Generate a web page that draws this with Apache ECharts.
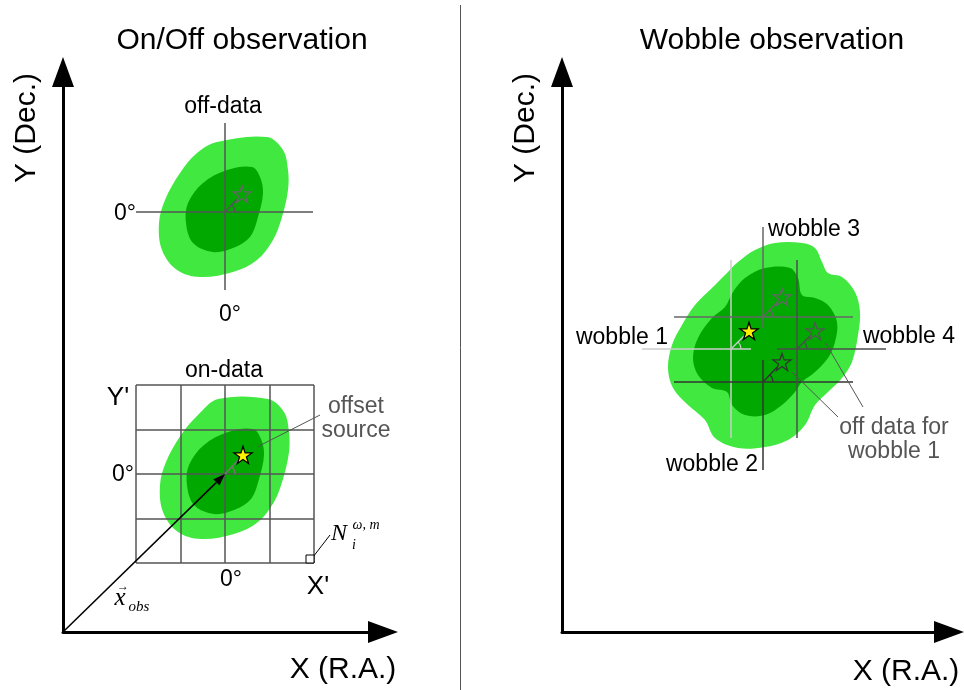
<!DOCTYPE html>
<html><head><meta charset="utf-8">
<script src="https://cdn.jsdelivr.net/npm/echarts@6/dist/echarts.min.js"></script>
<style>html,body{margin:0;padding:0;background:#fff}#c{width:964px;height:690px}</style>
</head><body><div id="c"></div>
<script>
// ---------- DATA (panel units: X right of Y axis, Y above X axis) ----------
// Left panel: On/Off observation
const offDataLight = [[154,490],[204,495],[220,482],[225,462],[225,442],[219,415],[210,392],[194,372],[170,360],[137,355],[114,362],[99,382],[96,409],[102,432],[117,459],[134,479]];
const offDataDark  = [[164,462],[189,465],[197,455],[200,439],[195,415],[187,395],[170,384],[150,380],[130,389],[123,409],[125,429],[140,449]];
const onDataLight  = [[155,233],[205,233],[221,220],[226,200],[226,180],[220,153],[211,130],[195,110],[171,98],[138,93],[115,100],[100,120],[97,147],[103,170],[118,197],[135,217]];
const onDataDark   = [[165,200],[190,203],[198,193],[201,177],[196,153],[188,133],[171,122],[151,118],[131,127],[124,147],[126,167],[141,187]];
const offCenter = [162,420];
const offStar   = [179,438];
const offHLine  = [73,250];   // x extent of horizontal 0° line
const offVLine  = [342,509];  // y extent of vertical 0° line
const onCenter  = [162,158];
const onStar    = [180,177];
const onGridX   = [73,118,162,207,251];
const onGridY   = [69,113,158,202,247];
const xObs      = [[0,0],[162,158]];
const offsetLeader = [[257,217],[194,185]];
const cellLeader   = [[250,75],[267,97]];
const pixelCell    = [[243,69],[251,77]];

// Right panel: Wobble observation
const wobbleLight = [[240,389],[253,384],[260,370],[266,359],[280,355],[293,340],[298,320],[296,297],[290,270],[280,254],[266,240],[253,227],[243,207],[226,192],[203,185],[176,184],[153,194],[143,212],[126,227],[111,244],[106,264],[110,287],[120,307],[133,327],[150,344],[163,357],[176,370],[193,382],[213,389]];
const wobbleDark  = [[228,364],[236,354],[240,337],[253,334],[266,327],[275,310],[273,290],[266,274],[253,260],[240,250],[233,240],[220,227],[203,217],[183,217],[170,227],[165,240],[150,244],[136,257],[131,274],[136,294],[150,314],[163,325],[171,340],[183,354],[203,364]];
const wobbleNames   = ['wobble 1','wobble 2','wobble 3','wobble 4'];
const wobbleCenters = [[169,283],[201,250],[201,315],[235,283]];
const wobbleStars   = [[187,301],[220,270],[220,335],[253,301]];
const wobbleHLines  = [[80,189],[112,291],[112,291],[215,324]];
const wobbleVLines  = [[194,372],[162,272],[304,405],[194,372]];
const wobbleLeaders = [[[276,215],[230,260]],[[301,225],[263,290]]];

// ---------- STYLE ----------
const SANS = '"Liberation Sans", Arial, sans-serif';
const SERIF = '"Liberation Serif", "Times New Roman", serif';
const LIGHT = '#40e840', DARK = '#00a800';
const wobbleColors = ['#cccccc','#333333','#666666','#4d4d4d'];
const STAR = 'path://M50,0 L61.2,34.5 L97.6,34.5 L68.2,55.9 L79.4,90.5 L50,69.1 L20.6,90.5 L31.8,55.9 L2.4,34.5 L38.8,34.5 Z';

function blob(g, pts, color, z){
  return {type:'custom', xAxisIndex:g, yAxisIndex:g, z:z, silent:true, animation:false, data:pts,
    renderItem:function(p, api){
      if (p.dataIndex !== 0) return null;
      return {type:'polygon', shape:{points:pts.map(function(q){return api.coord(q);}), smooth:0.35}, style:{fill:color}};
    }};
}
function segs(g, list, colors, width, z){
  return {type:'custom', xAxisIndex:g, yAxisIndex:g, z:z, silent:true, animation:false, data:list,
    renderItem:function(p, api){
      const a = api.coord([api.value(0), api.value(1)]), b = api.coord([api.value(2), api.value(3)]);
      const col = Array.isArray(colors) ? colors[p.dataIndex] : colors;
      return {type:'line', shape:{x1:a[0],y1:a[1],x2:b[0],y2:b[1]}, style:{stroke:col, lineWidth:width}};
    }};
}
function pointers(g, centers, stars, colors, z){
  return {type:'custom', xAxisIndex:g, yAxisIndex:g, z:z, silent:true, animation:false,
    data:centers.map(function(c,i){return [c[0],c[1],stars[i][0],stars[i][1]];}),
    renderItem:function(p, api){
      const c = api.coord([api.value(0), api.value(1)]), s = api.coord([api.value(2), api.value(3)]);
      const dx = s[0]-c[0], dy = s[1]-c[1], L = Math.hypot(dx,dy), k = (L-7)/L;
      const col = colors[p.dataIndex];
      return {type:'group', children:[
        {type:'line', shape:{x1:c[0],y1:c[1],x2:c[0]+dx*k,y2:c[1]+dy*k}, style:{stroke:col, lineWidth:1.4}},
        {type:'arc', shape:{cx:c[0],cy:c[1],r:10,startAngle:Math.atan2(dy,dx),endAngle:0,clockwise:true}, style:{stroke:col, fill:null, lineWidth:1.1}}
      ]};
    }};
}
function stars(g, pts, fills, strokes, z){
  return {type:'scatter', xAxisIndex:g, yAxisIndex:g, z:z, silent:true, animation:false,
    symbol:STAR, symbolSize:18, symbolKeepAspect:true,
    data:pts.map(function(q,i){return {value:q, itemStyle:{color:fills[i], borderColor:strokes[i], borderWidth:1.3, opacity:1}};})};
}
function crossSegs(center, h, v){
  return [[h[0],center[1],h[1],center[1]],[center[0],v[0],center[0],v[1]]];
}

// build segment lists from the arrays
const offCross = crossSegs(offCenter, offHLine, offVLine);
const onGrid = onGridX.map(function(x){return [x,onGridY[0],x,onGridY[onGridY.length-1]];})
  .concat(onGridY.map(function(y){return [onGridX[0],y,onGridX[onGridX.length-1],y];}));
const wobbleCross = [], wobbleCrossColors = [];
wobbleCenters.forEach(function(c,i){
  crossSegs(c, wobbleHLines[i], wobbleVLines[i]).forEach(function(s){wobbleCross.push(s); wobbleCrossColors.push(wobbleColors[i]);});
});
const leftLeaders = [offsetLeader[0].concat(offsetLeader[1]), cellLeader[0].concat(cellLeader[1])];
const rightLeaders = wobbleLeaders.map(function(l){return l[0].concat(l[1]);});

const xObsSeries = {type:'custom', xAxisIndex:0, yAxisIndex:0, z:8, silent:true, animation:false,
  data:[xObs[0].concat(xObs[1])],
  renderItem:function(p, api){
    const a = api.coord([api.value(0), api.value(1)]), b = api.coord([api.value(2), api.value(3)]);
    const dx = b[0]-a[0], dy = b[1]-a[1], L = Math.hypot(dx,dy), ux = dx/L, uy = dy/L;
    const bx = b[0]-ux*12, by = b[1]-uy*12;
    return {type:'group', children:[
      {type:'line', shape:{x1:a[0],y1:a[1],x2:bx,y2:by}, style:{stroke:'#000', lineWidth:1.5}},
      {type:'polygon', shape:{points:[[b[0],b[1]],[bx-uy*4.5,by+ux*4.5],[bx+uy*4.5,by-ux*4.5]]}, style:{fill:'#000'}}
    ]};
  }};
const cellSeries = {type:'custom', xAxisIndex:0, yAxisIndex:0, z:9, silent:true, animation:false,
  data:[pixelCell[0].concat(pixelCell[1])],
  renderItem:function(p, api){
    const a = api.coord([api.value(0), api.value(1)]), b = api.coord([api.value(2), api.value(3)]);
    return {type:'rect', shape:{x:a[0], y:b[1], width:b[0]-a[0], height:a[1]-b[1]}, style:{fill:'#fff', stroke:'#000', lineWidth:1}};
  }};

function axisPair(g, max){
  return {gridIndex:g, type:'value', min:0, max:max,
    axisLine:{show:true, onZero:false, symbol:['none','triangle'], symbolSize:[22,30], lineStyle:{color:'#000', width:3}},
    axisTick:{show:false}, axisLabel:{show:false}, splitLine:{show:false}};
}

function T(text, x, y, size, o){
  o = o || {};
  return {type:'text', x:x, y:y, rotation:o.rot||0, silent:true, z:100,
    style:{text:text, fill:o.color||'#000', fontSize:size, fontFamily:o.family||SANS, fontStyle:o.italic?'italic':'normal',
      align:o.align||'center', verticalAlign:'middle', textAlign:o.align||'center', textVerticalAlign:'middle'}};
}
const GRAY = '#555555';
const texts = [
  T('On/Off observation', 242, 41, 30),
  T('Wobble observation', 772, 41, 30),
  T('Y (Dec.)', 27, 128, 30, {rot:Math.PI/2}),
  T('Y (Dec.)', 526, 128, 30, {rot:Math.PI/2}),
  T('X (R.A.)', 343, 670, 30),
  T('X (R.A.)', 906, 672, 30),
  T('off-data', 223, 107, 23),
  T('0°', 125, 214, 23),
  T('0°', 230, 315, 23),
  T('on-data', 224, 371, 23),
  T("Y'", 118, 398, 26),
  T('0°', 123, 475, 23),
  T('0°', 231, 580, 23),
  T("X'", 318, 587, 26),
  T('offset', 356, 407, 23, {color:GRAY}),
  T('source', 356, 431, 23, {color:GRAY}),
  T('N', 339, 534, 24, {family:SERIF, italic:true}),
  T('ω, m', 366, 525, 14, {family:SERIF, italic:true}),
  T('i', 354, 545, 14, {family:SERIF, italic:true}),
  T('x', 120, 598, 25, {family:SERIF, italic:true}),
  T('→', 123, 587, 12, {family:SERIF}),
  T('obs', 139, 607, 15, {family:SERIF, italic:true}),
  T('wobble 3', 768, 230, 23, {align:'left'}),
  T('wobble 1', 622, 338, 23),
  T('wobble 4', 909, 337, 23),
  T('wobble 2', 712, 465, 23),
  T('off data for', 894, 428, 23, {color:GRAY}),
  T('wobble 1', 894, 452, 23, {color:GRAY}),
  {type:'line', silent:true, z:100, shape:{x1:460.5,y1:5,x2:460.5,y2:690}, style:{stroke:'#555', lineWidth:1}}
];

const chart = echarts.init(document.getElementById('c'));
chart.setOption({
  animation:false,
  backgroundColor:'#fff',
  grid:[
    {left:63, top:72, width:320, height:560, containLabel:false, outerBoundsMode:'none'},
    {left:562, top:72, width:387, height:560, containLabel:false, outerBoundsMode:'none'}
  ],
  xAxis:[axisPair(0,320), axisPair(1,387)],
  yAxis:[axisPair(0,560), axisPair(1,560)],
  series:[
    blob(0, offDataLight, LIGHT, 1), blob(0, offDataDark, DARK, 2),
    blob(0, onDataLight, LIGHT, 1), blob(0, onDataDark, DARK, 2),
    blob(1, wobbleLight, LIGHT, 1), blob(1, wobbleDark, DARK, 2),
    segs(0, offCross, '#555', 1.5, 3),
    segs(0, onGrid, '#555', 1.5, 3),
    segs(1, wobbleCross, wobbleCrossColors, 1.5, 3),
    pointers(0, [offCenter, onCenter], [offStar, onStar], ['#555','#777'], 4),
    pointers(1, wobbleCenters, wobbleStars, wobbleColors, 4),
    stars(0, [offStar, onStar], ['rgba(0,0,0,0)','#fff200'], ['#666','#000'], 5),
    stars(1, wobbleStars, ['#fff200','rgba(0,0,0,0)','rgba(0,0,0,0)','rgba(0,0,0,0)'], ['#000','#333','#666','#555'], 5),
    segs(0, leftLeaders, [GRAY,'#000'], 1, 6),
    segs(1, rightLeaders, GRAY, 1, 6),
    xObsSeries, cellSeries
  ],
  graphic:{elements:texts}
});
</script></body></html>
